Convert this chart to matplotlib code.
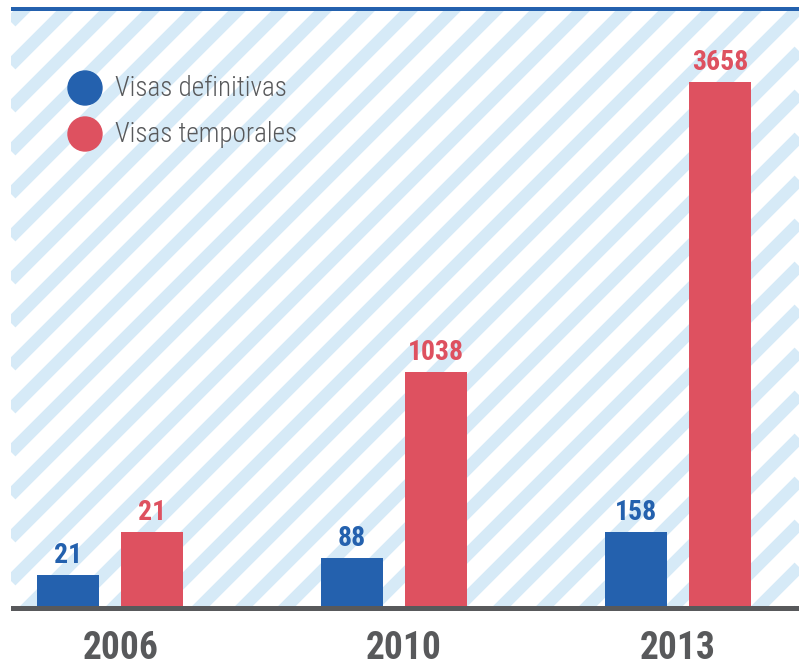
import numpy as np
import matplotlib.pyplot as plt
from matplotlib.patches import Circle

# data
years = ['2006', '2010', '2013']
series = ['Visas definitivas', 'Visas temporales']
definitivas = [21, 88, 158]
temporales = [21, 1038, 3658]
# bar heights as drawn in the picture (not proportional to the values)
definitivas_h = [31, 48, 74]
temporales_h = [74, 234, 524]

BLUE = '#2461ae'
RED = '#de5160'
GREY = '#58595b'
STRIPE = '#d6eaf7'
NARROW = ['Roboto Condensed', 'Fira Sans Condensed', 'DejaVu Sans']

W, H = 799, 666
fig = plt.figure(figsize=(W / 100, H / 100), dpi=100)

# background: stripes, top rule and baseline in pixel units
bg = fig.add_axes([11 / W, 0, 788 / W, 1], zorder=0)
bg.set_xlim(0, 788)
bg.set_ylim(0, H)
bg.axis('off')
base_y = H - 606
top_y = H - 11
xs = np.array([0, 788])
clip = plt.Rectangle((0, base_y), 788, top_y - base_y, transform=bg.transData)
for c in range(-800, 800, 43):
    ln, = bg.plot(xs, xs + base_y - 1 - c, color=STRIPE, lw=9, solid_capstyle='butt')
    ln.set_clip_path(clip)
bg.axhspan(base_y - 5, base_y, color=GREY, lw=0)
bg.axhspan(H - 11, H - 7, color=BLUE, lw=0)

# main axes
ax = fig.add_axes([11 / W, (H - 606) / H, 788 / W, 598 / H], zorder=1)
ax.patch.set_alpha(0)
ax.axis('off')
ax.set_ylim(0, 598)
x = np.arange(len(years))
ax.set_xlim(-0.3486, -0.3486 + 788 / 284)
off = 42 / 284
w = 62 / 284
for xi, hb, hr, vb, vr in zip(x, definitivas_h, temporales_h, definitivas, temporales):
    ax.bar(xi - off, hb, w, color=BLUE)
    ax.bar(xi + off, hr, w, color=RED)
    ax.annotate(str(vb), (xi - off, hb), xytext=(0, 8.6), textcoords='offset points',
                ha='center', va='baseline', color=BLUE, fontsize=20,
                fontweight='bold', family=NARROW)
    ax.annotate(str(vr), (xi + off, hr), xytext=(0, 8.6), textcoords='offset points',
                ha='center', va='baseline', color=RED, fontsize=20,
                fontweight='bold', family=NARROW)

# year labels
year_px = [121, 404, 678]
for yr, px in zip(years, year_px):
    fig.text(px / W, 1 - 659 / H, yr, ha='center', va='baseline', fontsize=27,
             fontweight='bold', color=GREY, family=NARROW)

# legend
for i, (name, col) in enumerate(zip(series, [BLUE, RED])):
    cy = H - (88 + i * 46)
    bg.add_patch(Circle((85 - 11, cy), 17, color=col, zorder=3))
    bg.text(115 - 11, cy, name, ha='left', va='center', fontsize=19.5,
            fontweight='light', color=GREY, family=NARROW)

fig.savefig('out.png', dpi=100)
